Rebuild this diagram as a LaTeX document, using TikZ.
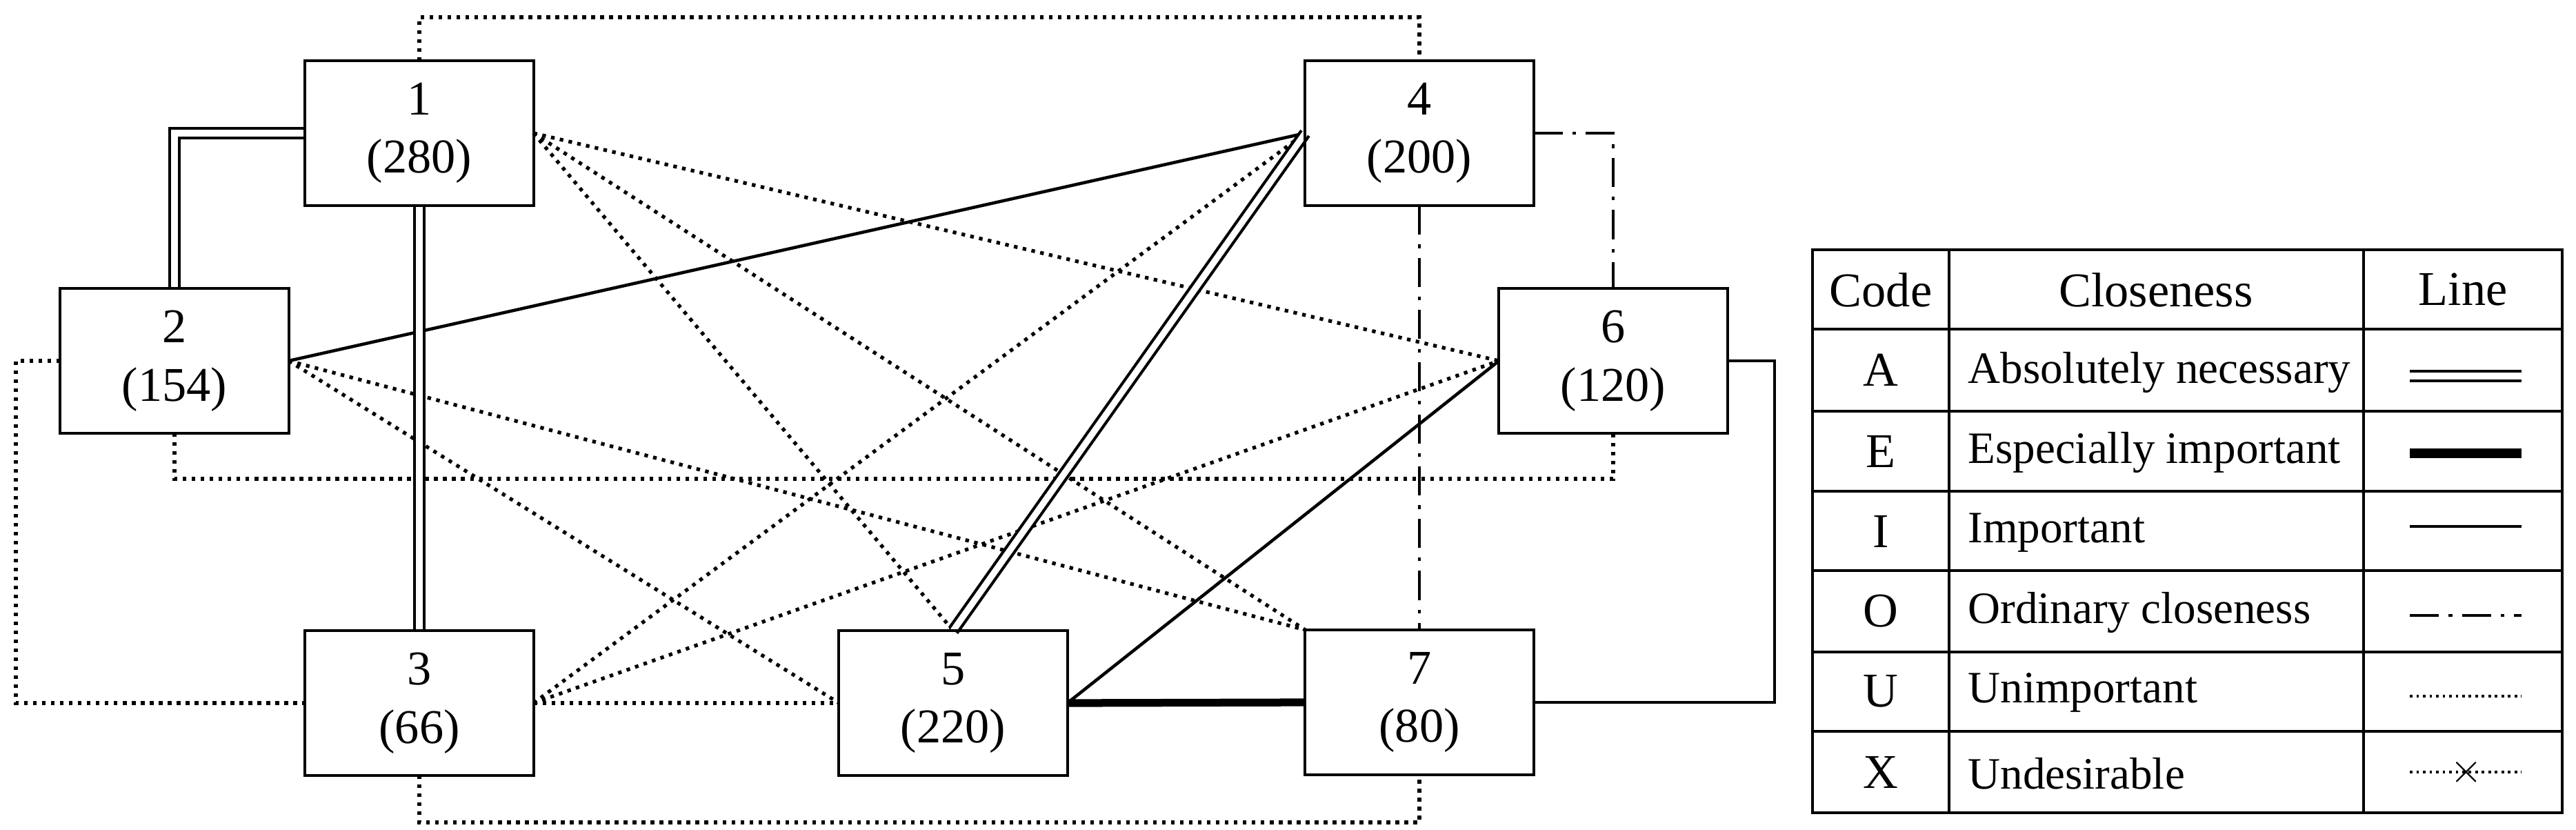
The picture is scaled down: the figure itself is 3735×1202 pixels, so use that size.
\documentclass[tikz,border=0pt]{standalone}
\usepackage{fontspec}
\setmainfont{Liberation Serif}
\usetikzlibrary{calc,positioning}

\begin{document}
\begin{tikzpicture}[
  x=0.01cm, y=-0.01cm,
  line width=0.9pt,
  font=\fontsize{20}{24}\selectfont,
  department/.style={
    rectangle,
    fill=white!100,
    draw=black,
    minimum height=21mm, minimum width=33.1mm,
    outer sep=0pt,
    align=center
  },
  absolute/.style={double, double distance=2.6pt, line width=1.2pt},
  especially/.style={line width=3.2pt},
  important/.style={line width=1.3pt},
  ordinary/.style={line width=1.2pt, dash pattern=on 12pt off 4pt on 1.5pt off 4pt},
  unimportant/.style={line width=1.5pt, dash pattern=on 1.5pt off 2.2pt},
  cell/.style={inner sep=0pt, anchor=center},
  cell text/.style={inner sep=0pt, anchor=west, font=\fontsize{18.5}{22}\selectfont}
  ]
\useasboundingbox (0,0) rectangle (3735,1202);
% Corner points of the routed links
\coordinate (top left) at (608,25);
\coordinate (top right) at (2058,25);
\coordinate (low left) at (253,694);
\coordinate (low right) at (2339,694);
\coordinate (far left top) at (23,523);
\coordinate (far left bottom) at (23,1019);
\coordinate (bottom left) at (608,1192);
\coordinate (bottom right) at (2058,1192);
\coordinate (side right top) at (2573,523);
\coordinate (side right bottom) at (2573,1018);
% Departments
\node [department] (dep1) at (608,193) {1\\(280)};
\node [department] (dep2) at (253,523) {2\\(154)};
\node [department] (dep3) at (608,1019) {3\\(66)};
\node [department] (dep4) at (2058,193) {4\\(200)};
\node [department] (dep5) at (1382,1019) {5\\(220)};
\node [department] (dep6) at (2339,523) {6\\(120)};
\node [department] (dep7) at (2058,1018) {7\\(80)};
% U links
\draw[unimportant] (dep1.north) -- (top left) -- (top right) -- (dep4.north);
\draw[unimportant] (dep2.south) -- (low left) -- (low right) -- (dep6.south);
\draw[unimportant] (dep2.west) -- (far left top) -- (far left bottom) -- (dep3.west);
\draw[unimportant] (dep3.south) -- (bottom left) -- (bottom right) -- (dep7.south);
\draw[unimportant] (dep3.east) -- (dep5.west);
\draw[unimportant] (dep1.east) -- (dep6.west);
\draw[unimportant] (dep1.east) -- (dep5.north);
\draw[unimportant] (dep1.east) -- (dep7.north west);
\draw[unimportant] (dep2.east) -- (dep5.west);
\draw[unimportant] (dep2.east) -- (dep7.north west);
\draw[unimportant] (dep3.east) -- (dep4.west);
\draw[unimportant] (dep3.east) -- (dep6.west);
% O links
\draw[ordinary] (dep4.south) -- (dep7.north);
\draw[ordinary] (dep4.east) -| (dep6.north);
% I links
\draw[important] (dep2.east) -- (dep4.west);
\draw[important] (dep5.east) -- (dep6.west);
\draw[important] (dep6.east) -- (side right top) -- (side right bottom) -- (dep7.east);
% E link
\draw[especially] (dep5.east) -- (dep7.west);
% A links
\draw[absolute] (dep1.west) -| (dep2.north);
\draw[absolute] (dep1.south) -- (dep3.north);
\draw[absolute] (dep4.west) -- (dep5.north);
% redraw boxes over link ends
\foreach \d in {dep1,dep2,dep3,dep4,dep5,dep6,dep7}
  \draw[line width=1.1pt] (\d.north west) rectangle (\d.south east);
% Legend table
\draw[line width=1.1pt] (2628,362) rectangle (3715,1178);
\draw[line width=1.1pt] (2826,362) -- (2826,1178) (3427,362) -- (3427,1178);
\foreach \y in {477,596,712,827,945,1060}
  \draw[line width=1.1pt] (2628,\y) -- (3715,\y);
\node [cell] (code head) at (2727,420) {Code};
\node [cell] (closeness head) at (3126,420) {Closeness};
\node [cell] (line head) at (3571,420) {Line};
\node [cell] (code a) at (2727,536) {A};
\node [cell] (code e) at (2727,654) {E};
\node [cell] (code i) at (2727,770) {I};
\node [cell] (code o) at (2727,886) {O};
\node [cell] (code u) at (2727,1002) {U};
\node [cell] (code x) at (2727,1119) {X};
\node [cell text] (text a) at (2852,540) {Absolutely necessary};
\node [cell text] (text e) at (2852,656) {Especially important};
\node [cell text] (text i) at (2852,772) {Important};
\node [cell text] (text o) at (2852,888) {Ordinary closeness};
\node [cell text] (text u) at (2852,1004) {Unimportant};
\node [cell text] (text x) at (2852,1121) {Undesirable};
\coordinate (line a l) at (3494,545); \coordinate (line a r) at (3656,545);
\coordinate (line e l) at (3494,657); \coordinate (line e r) at (3656,657);
\coordinate (line i l) at (3494,763); \coordinate (line i r) at (3656,763);
\coordinate (line o l) at (3494,892); \coordinate (line o r) at (3656,892);
\coordinate (line u l) at (3494,1009); \coordinate (line u r) at (3656,1009);
\coordinate (line x l) at (3494,1119); \coordinate (line x r) at (3656,1119);
\draw[absolute] (line a l) -- (line a r);
\draw[especially, line width=4pt] (line e l) -- (line e r);
\draw[important] (line i l) -- (line i r);
\draw[ordinary] (line o l) -- (line o r);
\draw[unimportant, line width=1.1pt, dash pattern=on 1.1pt off 1.6pt] (line u l) -- (line u r);
\draw[unimportant, line width=1.1pt, dash pattern=on 1.1pt off 1.6pt] (line x l) -- (line x r);
\node [cell, font=\fontsize{16}{16}\selectfont] (x mark) at (3576,1119) {$\times$};
\end{tikzpicture}
\end{document}
